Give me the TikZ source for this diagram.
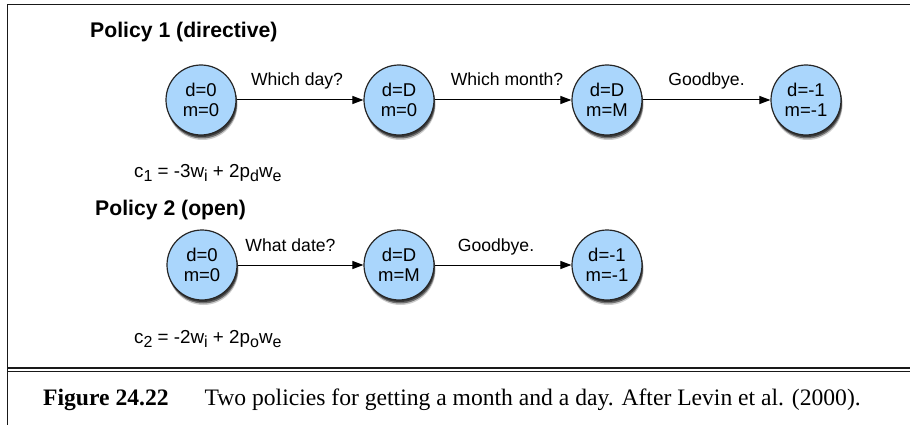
\documentclass[tikz,border=0pt]{standalone}
\usepackage{fontspec}
\setmainfont{Liberation Sans}
\newfontfamily\capfont{Liberation Serif}
\usetikzlibrary{arrows.meta,shadows}
\definecolor{stateblue}{RGB}{170,214,252}
\newcommand{\mysub}[1]{\raisebox{-4.5pt}{\fontsize{16}{16}\selectfont #1}}
\tikzset{
  state/.style={circle, draw=black!85, line width=1.2pt, fill=stateblue,
    minimum size=70pt, inner sep=0pt, align=center,
    font=\fontsize{18.5}{19.5}\selectfont,
    general shadow={shadow xshift=1.5pt, shadow yshift=-5pt, shadow scale=1.0, fill=black, opacity=0.2},
    general shadow={shadow xshift=1.2pt, shadow yshift=-3.5pt, shadow scale=1.0, fill=black, opacity=0.45},
    general shadow={shadow xshift=0.8pt, shadow yshift=-2pt, shadow scale=1.0, fill=black, opacity=0.5}},
  trans/.style={line width=1pt, -{Triangle[length=11pt,width=8pt]}},
  lbl/.style={font=\fontsize{17.6}{19}\selectfont, anchor=base, inner sep=0pt},
  title/.style={font=\fontsize{21.2}{24}\selectfont\bfseries, anchor=base west, inner sep=0pt},
  formula/.style={font=\fontsize{18.8}{19}\selectfont, anchor=base west, inner sep=0pt},
  frame/.style={line width=1.4pt, black!90},
}
\begin{document}
\begin{tikzpicture}[x=1pt,y=-1pt]
\useasboundingbox (0,0) rectangle (910,425);
% frame
\draw[frame] (7.5,425) -- (7.5,4.5) -- (910,4.5);
\draw[frame] (7.5,368) -- (910,368);
\draw[frame] (7.5,371.5) -- (910,371.5);

% Policy 1
\node[title] (t1) at (90,38) {Policy 1 (directive)};
\node[state] (a1) at (201,100) {d=0\\m=0};
\node[state] (a2) at (399,100) {d=D\\m=0};
\node[state] (a3) at (607,100) {d=D\\m=M};
\node[state] (a4) at (806,100) {d=-1\\m=-1};
\draw[trans] (a1) -- node[lbl, yshift=14pt, xshift=-3pt] {Which day?} (a2);
\draw[trans] (a2) -- node[lbl, yshift=14pt, xshift=4pt] {Which month?} (a3);
\draw[trans] (a3) -- node[lbl, yshift=14pt] {Goodbye.} (a4);
\node[formula] (f1) at (134,177) {c\mysub{1} = -3w\mysub{i} + 2p\mysub{d}w\mysub{e}};

% Policy 2
\node[title] (t2) at (95,215) {Policy 2 (open)};
\node[state] (b1) at (202,265) {d=0\\m=0};
\node[state] (b2) at (399,265) {d=D\\m=M};
\node[state] (b3) at (607,265) {d=-1\\m=-1};
\draw[trans] (b1) -- node[lbl, yshift=14pt, xshift=-10pt] {What date?} (b2);
\draw[trans] (b2) -- node[lbl, yshift=14pt, xshift=-7pt] {Goodbye.} (b3);
\node[formula] (f2) at (134,343) {c\mysub{2} = -2w\mysub{i} + 2p\mysub{o}w\mysub{e}};

% caption
\node[anchor=base west, inner sep=0pt, font=\capfont\fontsize{23.6}{26}\selectfont] (cap) at (43,405)
  {\textbf{Figure 24.22}\hspace{36pt}Two policies for getting a month and a day. After Levin et al. (2000).};
\end{tikzpicture}
\end{document}
